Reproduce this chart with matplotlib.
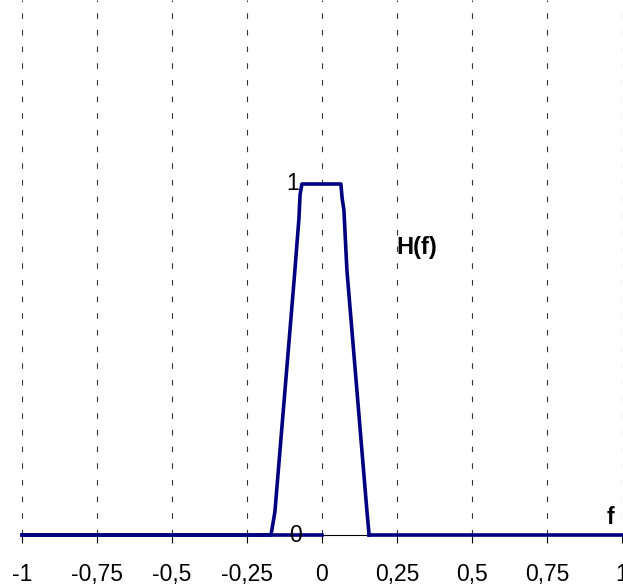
import matplotlib
matplotlib.use("Agg")
import matplotlib.pyplot as plt

plt.rcParams.update({"font.family": ["Liberation Sans", "DejaVu Sans"], "font.size": 12})

# H(f) — left part (drawn to 0) and right part
f_left = [-1.0, -0.17, -0.157, -0.093, -0.077, -0.073, -0.067, 0.063, 0.067, 0.073,
          0.083, 0.15, 0.157]
h_left = [0, 0, 0.066, 0.726, 0.90, 0.97, 1, 1, 0.96, 0.926, 0.755, 0.066, 0]
f_base = [-1.0, 0.0]
h_base = [0, 0]
f_right = [0.157, 1.0]
h_right = [0, 0]

xticks = [-1, -0.75, -0.5, -0.25, 0, 0.25, 0.5, 0.75, 1]
xlabels = ["-1", "-0,75", "-0,5", "-0,25", "0", "0,25", "0,5", "0,75", "1"]

W, H = 623, 587
fig = plt.figure(figsize=(W / 100, H / 100), dpi=100)
ax = fig.add_axes([22 / W, 52 / H, 600 / W, 535 / H])
ax.set_xlim(-1, 1)
ax.set_ylim(0, 535 / 351)

for x in xticks:
    ax.axvline(x, color="#333333", lw=0.8, ls=(0, (5, 10)), zorder=1)

ax.axhline(0, color="black", lw=0.8, zorder=2, clip_on=False)
NAVY = "#000080"
ax.plot(f_base, h_base, color=NAVY, lw=2.6, zorder=3, clip_on=False)
ax.plot(f_left, h_left, color=NAVY, lw=2.6, zorder=3, clip_on=False)
ax.plot(f_right, h_right, color=NAVY, lw=2.6, zorder=3, clip_on=False)

for s in ax.spines.values():
    s.set_visible(False)
ax.set_yticks([])
ax.set_xticks(xticks)
ax.set_xticklabels(xlabels)
ax.tick_params(axis="x", direction="out", length=6, width=0.8, pad=14, labelsize=16.5)

ax.text(-0.075, 1.0, "1", ha="right", va="center", fontsize=16.5)
ax.text(-0.09, 0.0, "0", ha="center", va="center", fontsize=16.5)
ax.text(0.248, 0.819, "H(f)", ha="left", va="center", fontsize=17, fontweight="bold")
ax.text(0.96, 0.05, "f", ha="center", va="center", fontsize=16.5, fontweight="bold")

fig.savefig("out.png", dpi=100)
